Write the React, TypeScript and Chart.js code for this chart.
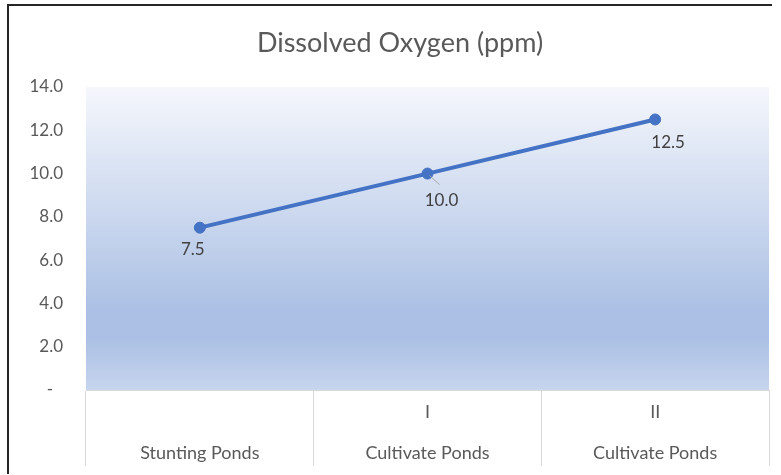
import { useEffect, useRef } from 'react';
import { Chart, registerables } from 'chart.js';

Chart.register(...registerables);

// ---- data ----
const chartTitle = 'Dissolved Oxygen (ppm)';
const groupLabels: string[] = ['', 'I', 'II'];
const pondTypes: string[] = ['Stunting Ponds', 'Cultivate Ponds', 'Cultivate Ponds'];
const dissolvedOxygen: number[] = [7.5, 10.0, 12.5];
const yTickValues: number[] = [0, 2, 4, 6, 8, 10, 12, 14];

// ---- styles ----
const FONT = 'Lato, "Open Sans", sans-serif';
const labelOffsets = [
  { dx: -7, dy: 22, leader: false },
  { dx: 14, dy: 27, leader: true },
  { dx: 13, dy: 23, leader: false },
];

const decorPlugin = {
  id: 'decor',
  beforeDraw(chart: any) {
    const { ctx, chartArea: a, width, height } = chart;
    ctx.save();
    ctx.fillStyle = '#ffffff';
    ctx.fillRect(0, 0, width, height);
    const g = ctx.createLinearGradient(0, a.top, 0, a.bottom);
    g.addColorStop(0, '#f5f7fc');
    g.addColorStop(0.74, '#abc0e4');
    g.addColorStop(0.83, '#abc0e4');
    g.addColorStop(1, '#c7d5ee');
    ctx.fillStyle = g;
    ctx.fillRect(a.left, a.top, a.right - a.left, a.bottom - a.top);
    ctx.strokeStyle = '#262626';
    ctx.lineWidth = 2;
    ctx.beginPath();
    ctx.moveTo(8, 474);
    ctx.lineTo(8, 5);
    ctx.lineTo(772, 5);
    ctx.stroke();
    ctx.restore();
  },
};

const dataLabelPlugin = {
  id: 'dataLabels',
  afterDatasetsDraw(chart: any) {
    const { ctx } = chart;
    const meta = chart.getDatasetMeta(0);
    const values = chart.data.datasets[0].data as number[];
    ctx.save();
    meta.data.forEach((pt: any, i: number) => {
      const o = labelOffsets[i];
      if (o.leader) {
        ctx.strokeStyle = '#a6a6a6';
        ctx.lineWidth = 1;
        ctx.beginPath();
        ctx.moveTo(pt.x + 2, pt.y + 2);
        ctx.lineTo(pt.x + 12, pt.y + 11);
        ctx.stroke();
      }
      ctx.fillStyle = '#404040';
      ctx.font = `17px ${FONT}`;
      ctx.textAlign = 'center';
      ctx.textBaseline = 'middle';
      ctx.fillText(values[i].toFixed(1), pt.x + o.dx, pt.y + o.dy);
    });
    ctx.restore();
  },
};

export default function App() {
  const ref = useRef<HTMLCanvasElement | null>(null);

  useEffect(() => {
    if (!ref.current) return;
    const labels = groupLabels.map((g, i) => [g, pondTypes[i]]);
    const chart = new Chart(ref.current, {
      type: 'line',
      data: {
        labels,
        datasets: [
          {
            label: chartTitle,
            data: dissolvedOxygen,
            borderColor: '#4472c4',
            backgroundColor: '#4472c4',
            borderWidth: 4,
            pointRadius: 5.5,
            pointBorderWidth: 1,
            pointBackgroundColor: '#4472c4',
            pointBorderColor: '#4472c4',
            tension: 0,
          },
        ],
      },
      options: {
        responsive: false,
        animation: false,
        events: [],
        layout: { padding: { left: 31, right: 12, top: 0, bottom: 0 } },
        plugins: {
          legend: { display: false },
          tooltip: { enabled: false },
          title: {
            display: true,
            text: chartTitle,
            color: '#595959',
            font: { family: FONT, size: 27, weight: 'normal', lineHeight: 1.2 },
            padding: { top: 27, bottom: 27.6 },
          },
        },
        scales: {
          x: {
            type: 'category',
            offset: true,
            grid: {
              offset: true,
              drawOnChartArea: false,
              drawTicks: true,
              tickLength: 76,
              color: '#d9d9d9',
              lineWidth: 1,
            },
            border: { display: true, color: '#d9d9d9', width: 1 },
            ticks: {
              padding: -74.5,
              color: '#595959',
              font: { family: FONT, size: 18, lineHeight: 41 / 18 },
              maxRotation: 0,
              autoSkip: false,
            },
            afterFit(s: any) {
              s.height = 85;
            },
          },
          y: {
            min: 0,
            max: 14,
            grid: { display: false, drawTicks: false },
            border: { display: false },
            afterBuildTicks(s: any) {
              s.ticks = yTickValues.map((v) => ({ value: v }));
            },
            ticks: {
              padding: 23,
              color: '#595959',
              font: { family: FONT, size: 17 },
              callback: (v: any) => (Number(v) === 0 ? '-\u2007' : Number(v).toFixed(1)),
            },
            afterFit(s: any) {
              s.width = 55;
            },
          },
        },
      },
      plugins: [decorPlugin, dataLabelPlugin],
    });
    return () => chart.destroy();
  }, []);

  return (
    <div style={{ position: 'fixed', left: 0, top: 0, width: 781, height: 475, background: '#fff' }}>
      <canvas ref={ref} width={781} height={475} style={{ display: 'block' }} />
    </div>
  );
}
